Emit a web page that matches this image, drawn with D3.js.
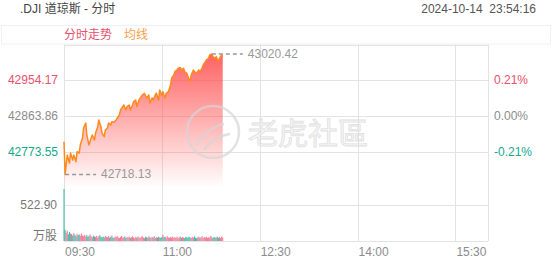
<!DOCTYPE html>
<html>
<head>
<meta charset="utf-8">
<script src="https://cdn.jsdelivr.net/npm/d3@7"></script>
<style>
  body { margin: 0; background: #fff; }
  svg { display: block; font-family: "Liberation Sans", "Noto Sans CJK SC", sans-serif; }
</style>
</head>
<body>
<svg id="chart" width="552" height="265"></svg>
<script>
// Chart constants
const WIDTH = 552;
const HEIGHT = 265;
const PLOT = { left: 64, right: 488, top: 44.5, priceBottom: 188.3, volTop: 205, volBottom: 241 };

// Data
const prevClose = 42863.86;
const priceTicks = [42954.17, 42863.86, 42773.55];
const volTick = 522.90;
const timeTickMinutes = [0, 90, 180, 270, 360];
const timeTickLabels = ["09:30", "11:00", "12:30", "14:00", "15:30"];
const lowPoint = { minute: 1, price: 42718.13 };
const highPoint = { minute: 136, price: 43020.42 };

// minutes after 09:30 and price at that minute
const minutes = [0, 1, 3, 5, 6, 8, 9, 11, 12, 14, 15, 17, 18, 20, 21, 23, 25, 26, 28, 29,
  31, 32, 34, 35, 37, 38, 40, 41, 43, 44, 46, 48, 49, 51, 52, 54, 55, 57, 58, 60,
  61, 63, 64, 66, 67, 69, 71, 72, 74, 76, 78, 79, 81, 82, 84, 85, 87, 88, 90, 91,
  93, 94, 96, 98, 99, 101, 102, 104, 105, 107, 108, 110, 111, 113, 114, 116, 117, 119, 120, 122,
  124, 125, 127, 128, 130, 131, 133, 134, 136, 137, 139, 140, 142, 143, 145, 146];
const prices = [42800.2, 42718.13, 42766.8, 42746.6, 42771.8, 42754.2, 42766.8, 42749.9, 42775.1, 42771.8,
  42791.9, 42809.5, 42834.7, 42847.3, 42817.1, 42791.9, 42809.5, 42817.1, 42804.5, 42822.1,
  42838.0, 42854.8, 42838.0, 42822.1, 42812.8, 42829.7, 42834.7, 42847.3, 42842.2, 42850.5,
  42849.0, 42854.8, 42859.8, 42867.4, 42880.0, 42888.3, 42892.5, 42880.0, 42888.3, 42892.5,
  42880.0, 42892.5, 42900.8, 42905.1, 42888.3, 42905.1, 42913.4, 42917.7, 42922.0, 42909.4,
  42917.7, 42897.6, 42910.2, 42905.1, 42917.7, 42922.0, 42905.1, 42930.3, 42917.7, 42926.0,
  42909.4, 42922.0, 42926.0, 42942.8, 42959.7, 42968.0, 42976.3, 42980.6, 42984.9, 42986.4,
  42980.6, 42984.9, 42976.3, 42972.3, 42963.8, 42951.2, 42968.0, 42980.6, 42976.3, 42972.3,
  42980.6, 42976.3, 42984.9, 42993.2, 43001.5, 43005.8, 43010.0, 43018.3, 43020.42, 43014.1,
  43010.0, 43014.1, 43001.5, 43010.0, 43018.3, 43019.5];

// volume per minute (万股), minute 0..146
const volumes = [
  755, 165, 120, 150, 95, 130, 110, 100, 80, 115,
  90, 70, 105, 85, 95, 75, 110, 80, 70, 90,
  65, 85, 60, 75, 95, 70, 55, 80, 65, 60,
  75, 50, 70, 85, 60, 55, 65, 50, 75, 60,
  55, 70, 48, 62, 80, 52, 45, 66, 58, 72,
  50, 44, 60, 75, 48, 55, 68, 42, 58, 50,
  64, 46, 55, 70, 52, 40, 60, 48, 66, 54,
  44, 58, 72, 50, 42, 62, 55, 47, 68, 52,
  45, 60, 50, 70, 43, 56, 48, 64, 52, 46,
  58, 90, 55, 62, 48, 70, 52, 45, 60, 50,
  66, 44, 56, 48, 62, 40, 54, 68, 46, 58,
  50, 42, 60, 55, 47, 64, 52, 44, 58, 50,
  66, 48, 40, 56, 62, 46, 52, 70, 44, 58,
  50, 62, 46, 54, 48, 72, 56, 44, 60, 50,
  52, 64, 48, 58, 45, 66, 50];

const RED = "#e8506c";
const GREEN = "#14a98b";
const GRAY = "#8c8c8c";
const GRID = "#e3e3e3";

const svg = d3.select("#chart");

// Scales
const x = d3.scaleLinear().domain([0, 390]).range([PLOT.left, PLOT.right]);
const step = priceTicks[0] - priceTicks[1];
const y = d3.scaleLinear()
  .domain([prevClose - 2 * step, prevClose + 2 * step])
  .range([PLOT.priceBottom, PLOT.top]);
const yVol = d3.scaleLinear().domain([0, volTick]).range([PLOT.volBottom, PLOT.volTop]);
const priceAt = d3.scaleLinear().domain(minutes).range(prices);

const crisp = v => Math.round(v) + 0.5;

// Header
svg.append("text").attr("x", 20).attr("y", 12.5).attr("font-size", 12).attr("fill", "#444")
  .text(".DJI 道琼斯 - 分时");
svg.append("text").attr("x", 536).attr("y", 12.5).attr("font-size", 12).attr("fill", "#555")
  .attr("text-anchor", "end").attr("xml:space", "preserve").text("2024-10-14  23:54:16");

// Legend band
svg.append("rect").attr("x", 1.5).attr("y", 25.5).attr("width", 549).attr("height", 18.5)
  .attr("fill", "none").attr("stroke", "#eef0f3");
svg.append("text").attr("x", 64).attr("y", 38.5).attr("font-size", 12).attr("fill", RED).text("分时走势");
svg.append("text").attr("x", 124).attr("y", 38.5).attr("font-size", 12).attr("fill", "#f5a04a").text("均线");

// Grid
const grid = svg.append("g").attr("stroke", GRID).attr("stroke-width", 1);
grid.selectAll("line.v")
  .data([...timeTickMinutes, 390])
  .enter().append("line")
  .attr("x1", d => crisp(x(d))).attr("x2", d => crisp(x(d)))
  .attr("y1", PLOT.top).attr("y2", PLOT.volBottom);
grid.selectAll("line.h")
  .data([PLOT.top, ...priceTicks.map(y), yVol(volTick), PLOT.volBottom])
  .enter().append("line")
  .attr("x1", PLOT.left).attr("x2", PLOT.right)
  .attr("y1", d => crisp(d)).attr("y2", d => crisp(d));

// Area + line
const defs = svg.append("defs");
const grad = defs.append("linearGradient").attr("id", "fillGrad")
  .attr("gradientUnits", "userSpaceOnUse")
  .attr("x1", 0).attr("x2", 0).attr("y1", PLOT.top).attr("y2", PLOT.priceBottom);
grad.append("stop").attr("offset", 0).attr("stop-color", "#ff5252").attr("stop-opacity", 0.97);
grad.append("stop").attr("offset", 1).attr("stop-color", "#ff5252").attr("stop-opacity", 0.0);

const pts = minutes.map((m, i) => ({ m: m, p: prices[i] }));
svg.append("path").datum(pts)
  .attr("fill", "url(#fillGrad)")
  .attr("d", d3.area().x(d => x(d.m)).y0(PLOT.priceBottom - 2).y1(d => y(d.p)));
svg.append("path").datum(pts)
  .attr("fill", "none").attr("stroke", "#ff8a1c").attr("stroke-width", 1.5)
  .attr("stroke-linejoin", "round")
  .attr("d", d3.line().x(d => x(d.m)).y(d => y(d.p)));

// Volume bars
svg.append("g").selectAll("rect")
  .data(volumes)
  .enter().append("rect")
  .attr("x", (d, i) => x(i) - 0.55)
  .attr("width", 1.1)
  .attr("y", d => yVol(d))
  .attr("height", d => yVol(0) - yVol(d))
  .attr("fill", (d, i) => (i === 0 || priceAt(i) < priceAt(i - 1)) ? "#22b09c" : "#f06a8a")
  .attr("opacity", 0.85);

// Watermark
const wm = svg.append("g").attr("opacity", 0.7);
wm.append("circle").attr("cx", 213).attr("cy", 132).attr("r", 26)
  .attr("fill", "none").attr("stroke", "#d6d6d6").attr("stroke-width", 2.5);
wm.append("path").attr("d", "M196,146 Q206,128 224,124 M204,150 Q214,136 230,134")
  .attr("fill", "none").attr("stroke", "#d6d6d6").attr("stroke-width", 2.5);
wm.append("text").attr("x", 248).attr("y", 144).attr("font-size", 30)
  .attr("font-family", "'Noto Sans CJK TC', 'Noto Sans CJK SC', sans-serif")
  .attr("fill", "#f3f3f3").attr("stroke", "#d2d2d2").attr("stroke-width", 0.8)
  .text("老虎社區");

// High / low markers
const markers = [lowPoint, highPoint];
svg.append("g").selectAll("line")
  .data(markers)
  .enter().append("line")
  .attr("x1", d => x(d.minute)).attr("x2", d => x(d.minute) + 31)
  .attr("y1", d => y(d.price)).attr("y2", d => y(d.price))
  .attr("stroke", "#999").attr("stroke-width", 1.5).attr("stroke-dasharray", "4,3");
svg.append("g").selectAll("text")
  .data(markers)
  .enter().append("text")
  .attr("x", d => x(d.minute) + 36).attr("y", d => y(d.price) + 4)
  .attr("font-size", 12).attr("fill", "#999")
  .text(d => d.price.toFixed(2));

// Price labels (left) and percent labels (right)
const tickColor = p => p > prevClose ? RED : (p < prevClose ? GREEN : GRAY);
svg.append("g").selectAll("text")
  .data(priceTicks)
  .enter().append("text")
  .attr("x", 58).attr("y", d => y(d) + 4).attr("text-anchor", "end")
  .attr("font-size", 12).attr("fill", tickColor)
  .text(d => d.toFixed(2));
svg.append("g").selectAll("text")
  .data(priceTicks)
  .enter().append("text")
  .attr("x", 494).attr("y", d => y(d) + 4)
  .attr("font-size", 12).attr("fill", tickColor)
  .text(d => ((d - prevClose) / prevClose * 100).toFixed(2) + "%");

// Volume labels
svg.append("text").attr("x", 57).attr("y", yVol(volTick) + 4).attr("text-anchor", "end")
  .attr("font-size", 12).attr("fill", "#777").text(volTick.toFixed(2));
svg.append("text").attr("x", 57).attr("y", 240).attr("text-anchor", "end")
  .attr("font-size", 12).attr("fill", "#777").text("万股");

// Time axis labels
svg.append("g").selectAll("text")
  .data(timeTickMinutes)
  .enter().append("text")
  .attr("x", d => x(d) + 1).attr("y", 256)
  .attr("font-size", 12).attr("fill", GRAY)
  .text((d, i) => timeTickLabels[i]);
</script>
</body>
</html>
